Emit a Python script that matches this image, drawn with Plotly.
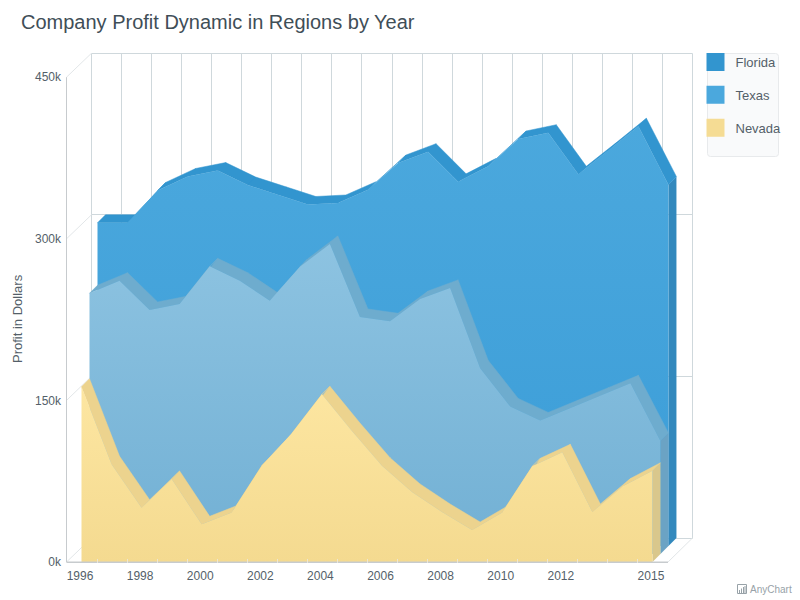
import plotly.graph_objects as go

years = list(range(1996, 2016))
florida = [300, 300, 330, 343, 348.5, 335, 326, 317, 318.4, 330.7, 355.5, 366, 338, 352.4, 377.8, 383.6, 345, 367, 389.6, 335.4]
texas = [242, 253.7, 226.5, 232, 267, 253.7, 235, 266.7, 287.8, 220, 216, 236.7, 247, 172.4, 137, 124, 135.5, 147, 158.4, 105]
nevada = [162.7, 90.7, 50.4, 77, 35, 46, 89.4, 119.4, 155.6, 121.6, 89.4, 65, 46.4, 29.7, 46, 88.8, 101.8, 46.4, 70, 84.7]
y_ticks = [0, 150, 300, 450]
y_labels = ["0k", "150k", "300k", "450k"]
x_ticks = [1996, 1998, 2000, 2002, 2004, 2006, 2008, 2010, 2012, 2015]

W, H = 800, 600
L, R, T, B = 66, 694, 53, 563   # plot box in page pixels
PX_X = 30.05
PX_Y = 161.6 / 150
ZERO_PX = 562
FIRST_PX = 81.5
SLICE = 8
x0 = 1996 - (FIRST_PX - L) / PX_X
x1 = x0 + (R - L) / PX_X
y0 = -(B - ZERO_PX) / PX_Y
y1 = (ZERO_PX - T) / PX_Y
DX = SLICE / PX_X
DY = SLICE / PX_Y

FONT = "Liberation Sans"
TEXT = "#545f69"
GRID = "#cfd8dc"
WALL = "#c7cbce"
DIAG = "#e2e6e8"


def xval(p):
    return x0 + (p - L) / PX_X


def yval(p):
    return (ZERO_PX - p) / PX_Y


def crisp(p):
    return int(p) + 0.5


fig = go.Figure()

series = [
    ("Florida", florida, 2, "#3295cf", "#3389bd", "#3295cf", ["#3b9dd8", "#4ba8dd"]),
    ("Texas", texas, 1, "#6eacce", "#6ba3c4", "#4ba8dd", ["#72b0d4", "#8dc3e1"]),
    ("Nevada", nevada, 0, "#ecd38e", "#d9c78c", "#f5dc94", ["#f4da90", "#fde6a1"]),
]

for name, _, _, _, _, swatch, _ in series:
    fig.add_trace(go.Scatter(
        x=[None], y=[None], mode="markers", name=name, legendgroup=name,
        marker=dict(symbol="square", size=16, color=swatch, line=dict(color=swatch, width=2)),
    ))


def line_trace(xs, ys, color, width=1):
    fig.add_trace(go.Scatter(x=xs, y=ys, mode="lines", showlegend=False,
                             line=dict(color=color, width=width), hoverinfo="skip"))


wall_px = 66.5
front_right_px = 668
back_left_px = 91.5
back_right_px = 692.5
depth_px = 24

# back wall grid
gx, gy = [], []
top_back = yval(53.5)
bot_back = yval(538.5)
for k in range(21):
    p = crisp(back_left_px + k * PX_X)
    gx += [xval(p), xval(p), None]
    gy += [bot_back, top_back, None]
for v in y_ticks:
    p = crisp(ZERO_PX - v * PX_Y - depth_px)
    gx += [xval(back_left_px), xval(back_right_px), None]
    gy += [yval(p), yval(p), None]
line_trace(gx, gy, GRID)

# side wall and floor diagonals
dx_, dy_ = [], []
for v in y_ticks:
    p = ZERO_PX - v * PX_Y
    dx_ += [xval(wall_px), xval(back_left_px), None]
    dy_ += [yval(p), yval(p - depth_px), None]
dx_ += [xval(front_right_px), xval(back_right_px)]
dy_ += [0, yval(ZERO_PX - depth_px)]
line_trace(dx_, dy_, DIAG)

line_trace([xval(wall_px), xval(wall_px)], [y_ticks[-1], 0], WALL)

for name, vals, d, top_c, side_c, _, grad in series:
    xf = [yr + d * DX for yr in years]
    yf = [v + d * DY for v in vals]
    base = d * DY
    # right side
    fig.add_trace(go.Scatter(
        x=[xf[-1], xf[-1] + DX, xf[-1] + DX, xf[-1], xf[-1]],
        y=[base, base + DY, yf[-1] + DY, yf[-1], base],
        mode="lines", fill="toself", fillcolor=side_c, line=dict(width=0),
        showlegend=False, hoverinfo="skip"))
    # top band
    tx, ty = [], []
    for i in range(len(years) - 1):
        tx += [xf[i], xf[i + 1], xf[i + 1] + DX, xf[i] + DX, xf[i], None]
        ty += [yf[i], yf[i + 1], yf[i + 1] + DY, yf[i] + DY, yf[i], None]
    fig.add_trace(go.Scatter(
        x=tx, y=ty, mode="lines", fill="toself", fillcolor=top_c,
        line=dict(width=0.5, color=top_c), showlegend=False, hoverinfo="skip"))
    # front
    fig.add_trace(go.Scatter(
        x=[xf[0]] + xf + [xf[-1], xf[0]],
        y=[base] + yf + [base, base],
        mode="lines", fill="toself", line=dict(width=0),
        fillgradient=dict(type="vertical", colorscale=[[0, grad[0]], [1, grad[1]]],
                          start=base, stop=max(yf)),
        showlegend=False, name=name,
        hovertemplate=name + "<extra></extra>"))

# floor front edge
line_trace([xval(wall_px), xval(front_right_px)], [yval(562.3)] * 2, WALL, 1.5)


def px(x):
    return (x - L) / (R - L)


def py(y):
    return (B - y) / (B - T)


def rrect(xa, ya, xb, yb, r):
    return (f"M{px(xa+r)},{py(ya)} L{px(xb-r)},{py(ya)} Q{px(xb)},{py(ya)} {px(xb)},{py(ya+r)} "
            f"L{px(xb)},{py(yb-r)} Q{px(xb)},{py(yb)} {px(xb-r)},{py(yb)} "
            f"L{px(xa+r)},{py(yb)} Q{px(xa)},{py(yb)} {px(xa)},{py(yb-r)} "
            f"L{px(xa)},{py(ya+r)} Q{px(xa)},{py(ya)} {px(xa+r)},{py(ya)} Z")


shapes = [dict(type="path", xref="paper", yref="paper", path=rrect(707.5, 53.5, 778.5, 156.5, 3),
               fillcolor="#f9fafb", line=dict(color="#e8eaec", width=1), layer="below")]
# credit icon
CREDIT = "#98a2a8"
shapes.append(dict(type="rect", xref="paper", yref="paper", x0=px(737.5), x1=px(746.5), y0=py(593.5), y1=py(584.5),
                   line=dict(color=CREDIT, width=1), fillcolor="rgba(0,0,0,0)"))
for bx, by in [(739.5, 590), (741.5, 588.5), (743.5, 587), (745, 586)]:
    shapes.append(dict(type="line", xref="paper", yref="paper", x0=px(bx), x1=px(bx), y0=py(593), y1=py(by),
                       line=dict(color=CREDIT, width=1)))

fig.update_layout(
    width=W, height=H, autosize=False,
    margin=dict(l=L, r=W - R, t=T, b=H - B, pad=0),
    paper_bgcolor="white", plot_bgcolor="rgba(0,0,0,0)",
    font=dict(family=FONT, color=TEXT, size=12),
    title=dict(text="Company Profit Dynamic in Regions by Year", xref="container", yref="container",
               x=21 / W, xanchor="left", y=1 - 22 / H, yanchor="middle",
               font=dict(family=FONT, size=20, color="#3f4e57"), pad=dict(l=0, r=0, t=0, b=0)),
    xaxis=dict(range=[x0, x1], showgrid=False, zeroline=False, showline=False, fixedrange=True,
               tickmode="array", tickvals=[v - 0.05 for v in x_ticks], ticktext=[str(v) for v in x_ticks],
               ticks="", ticklabelstandoff=4, tickfont=dict(family=FONT, size=12, color=TEXT),
               minor=dict(tickmode="array", tickvals=[xval(67) + k for k in range(1, 20)], ticks="inside",
                          ticklen=4, tickcolor="#ebe6d6", tickwidth=1)),
    yaxis=dict(range=[y0, y1], showgrid=False, zeroline=False, showline=False, fixedrange=True,
               tickmode="array", tickvals=y_ticks, ticktext=y_labels,
               ticks="", ticklabelstandoff=4, tickfont=dict(family=FONT, size=12, color=TEXT)),
    legend=dict(x=px(695.5), xanchor="left", y=py(47), yanchor="top", bgcolor="rgba(0,0,0,0)",
                borderwidth=0, tracegroupgap=13, itemsizing="trace", traceorder="grouped",
                entrywidth=50, entrywidthmode="pixels",
                font=dict(family=FONT, size=13, color=TEXT)),
    shapes=shapes,
    annotations=[
        dict(text="AnyChart", xref="paper", yref="paper", x=px(747.5), y=py(589), xanchor="left",
             yanchor="middle", showarrow=False, font=dict(family=FONT, size=10, color=CREDIT)),
        dict(text="Profit in Dollars", xref="paper", yref="paper", x=px(18), y=py(319), xanchor="center",
             yanchor="middle", textangle=-90, showarrow=False, font=dict(family=FONT, size=13, color=TEXT)),
    ],
    hovermode="closest",
)

fig.write_html("out.html", config=dict(displayModeBar=False),
               post_script="document.body.style.margin='0';")
